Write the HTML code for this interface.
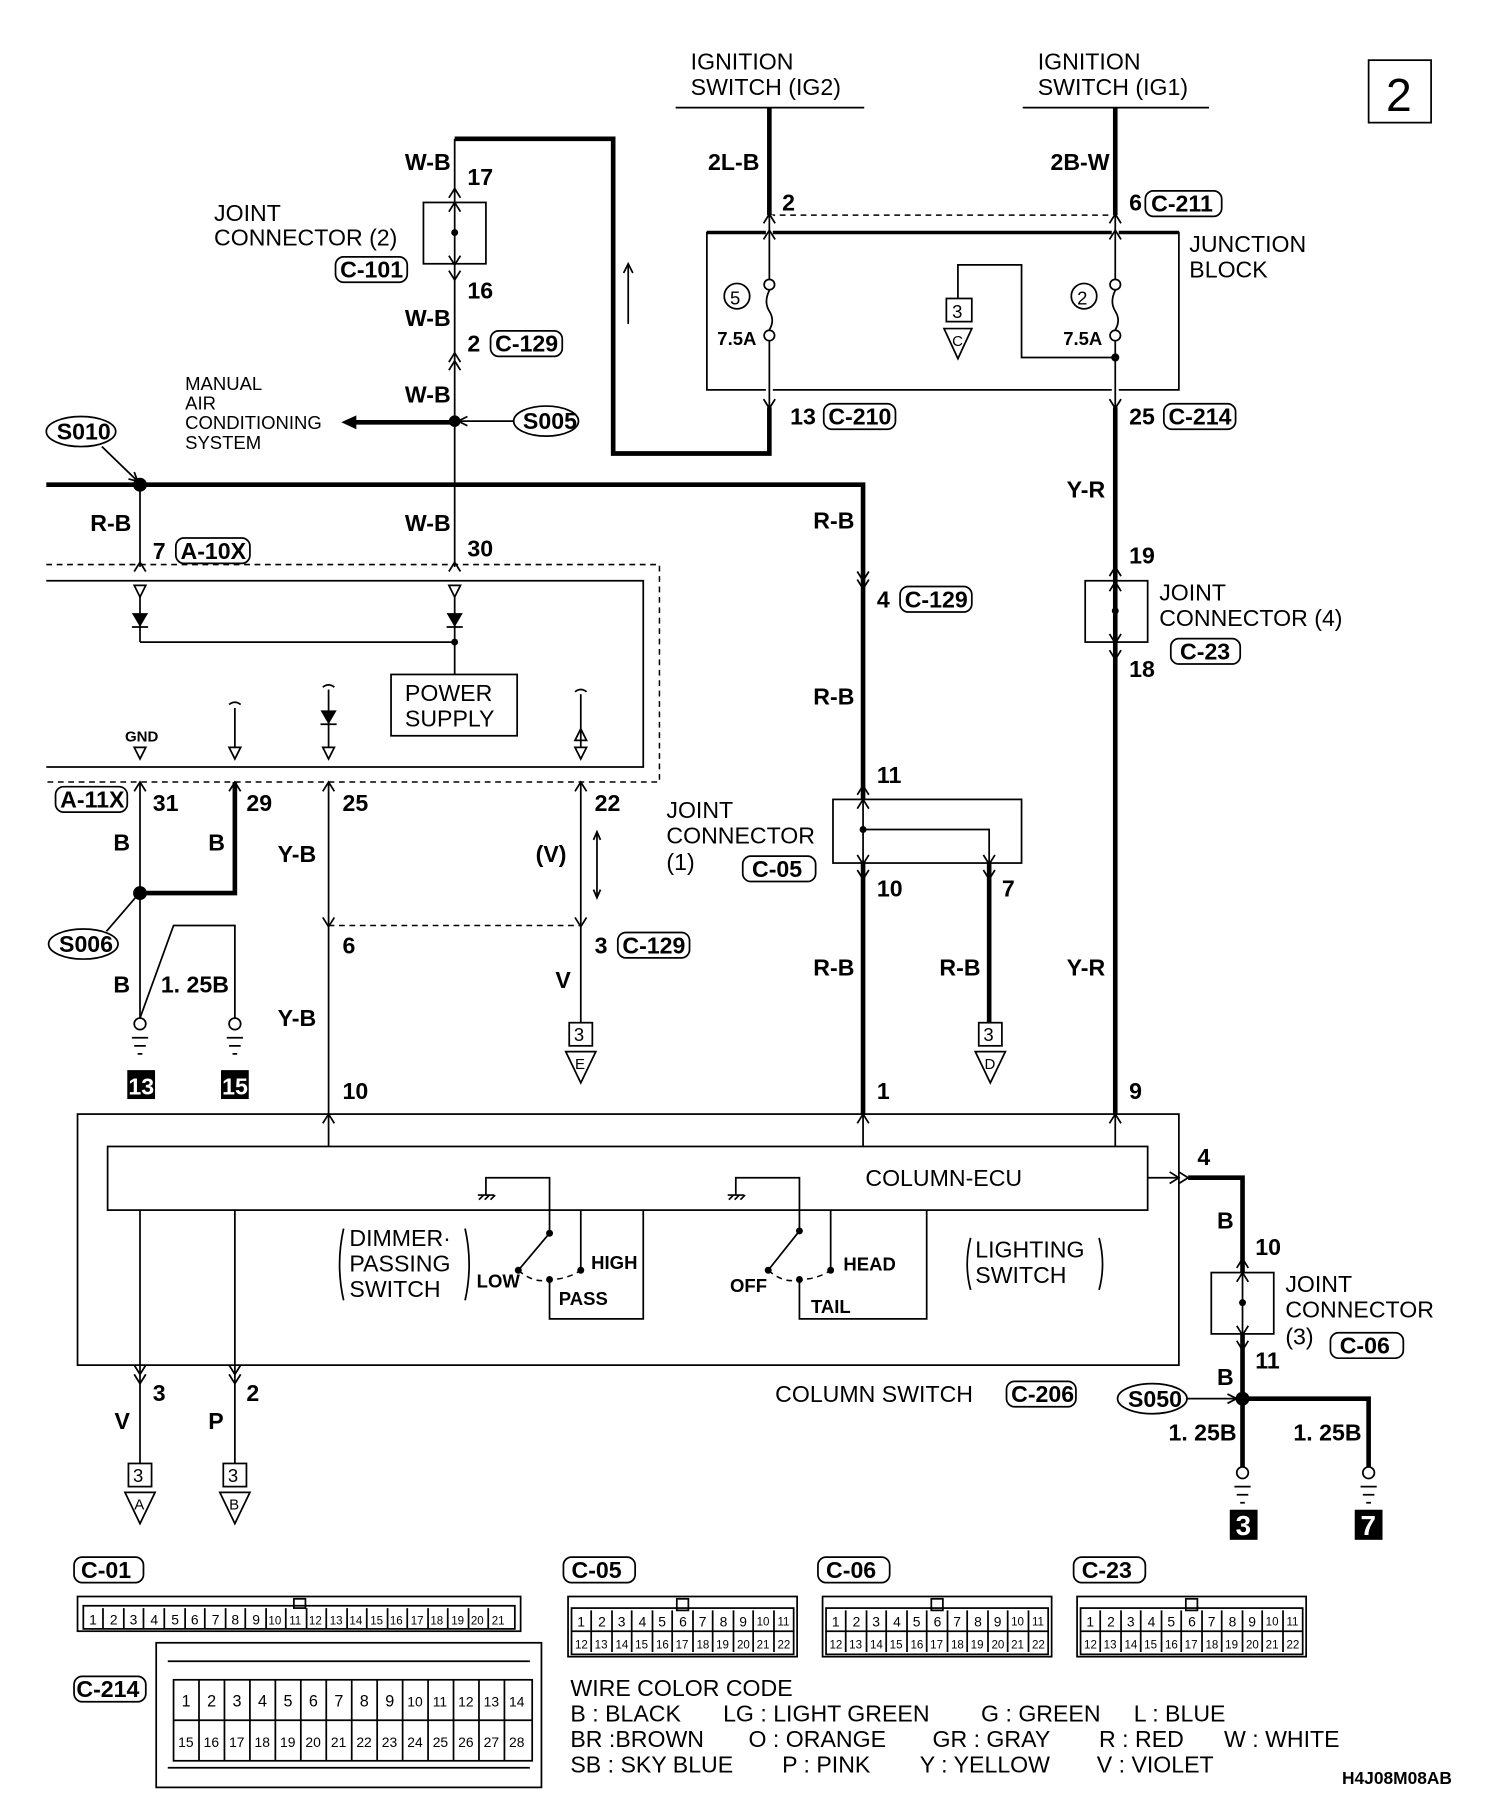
<!DOCTYPE html>
<html><head><meta charset="utf-8"><style>
html,body{margin:0;padding:0;background:#fff}
svg{display:block}
text{font-family:"Liberation Sans",sans-serif;font-size:20px;fill:#000}
.b{font-weight:bold}
.s{font-size:16px}
.n{font-size:13px}
.p14 text{font-size:14px}
.p12 text{font-size:12px}
.p10 text{font-size:10px}
.t{fill:none;stroke:#000;stroke-width:1.5}
.k{fill:none;stroke:#000;stroke-width:4}
.d{fill:none;stroke:#000;stroke-width:1.3;stroke-dasharray:5 4}
.tg{fill:none;stroke:#000;stroke-width:1.5}
</style></head><body>
<svg width="1504" height="1814" viewBox="0 0 1300 1568" xmlns="http://www.w3.org/2000/svg">
<rect x="1183" y="52" width="54" height="54" class="t" stroke-width="2"/>
<text x="1198" y="96" style="font-size:40px">2</text>

<text x="597" y="60">IGNITION</text><text x="597" y="82">SWITCH (IG2)</text>
<line x1="584" y1="93" x2="747" y2="93" class="t" stroke-width="2.5"/>
<path d="M665 93 V392 H530 V120 H393" class="k"/>
<text x="612" y="147" class="b">2L-B</text>
<text x="676" y="182" class="b">2</text>
<line x1="543" y1="280" x2="543" y2="228" class="t" stroke-width="1"/><path d="M539 236 L543 228 L547 236" class="t" stroke-width="1"/>
<text x="897" y="60">IGNITION</text><text x="897" y="82">SWITCH (IG1)</text>
<line x1="884" y1="93" x2="1045" y2="93" class="t" stroke-width="2.5"/>
<line x1="964" y1="93" x2="964" y2="963" class="k"/>
<text x="908" y="147" class="b">2B-W</text>
<text x="976" y="182" class="b">6</text>
<rect x="990" y="165" width="66" height="22" rx="7" class="tg"/><text x="995" y="183" class="b">C-211</text>
<line x1="665" y1="186" x2="964" y2="186" class="d"/>
<rect x="611" y="201" width="408" height="136" fill="#fff" stroke="#000" stroke-width="1.5"/>
<line x1="611" y1="201" x2="1019" y2="201" stroke="#000" stroke-width="3"/>
<line x1="665" y1="186" x2="665" y2="352" stroke="#fff" stroke-width="6"/>
<line x1="964" y1="186" x2="964" y2="352" stroke="#fff" stroke-width="6"/>
<path d="M665 186 V241 M665 295 V352" class="t"/>
<path d="M964 186 V241 M964 295 V352" class="t" stroke-width="2"/>
<circle cx="665" cy="246" r="4.5" class="t"/><circle cx="665" cy="290" r="4.5" class="t"/>
<path d="M665 251 q-5 10 0 18 q5 8 0 16" class="t"/>
<circle cx="964" cy="246" r="4.5" class="t"/><circle cx="964" cy="290" r="4.5" class="t"/>
<path d="M964 251 q-5 10 0 18 q5 8 0 16" class="t"/>
<circle cx="637" cy="256" r="11" class="t"/><text x="631" y="263" class="s">5</text>
<text x="620" y="298" class="b s">7.5A</text>
<circle cx="937" cy="256" r="11" class="t"/><text x="931" y="263" class="s">2</text>
<text x="919" y="298" class="b s">7.5A</text>
<path d="M964 309 H883 V229 H828 V258" class="t"/><circle cx="964" cy="309" r="3.5"/>
<rect x="818" y="258" width="22" height="20" class="t"/><text x="823" y="275" class="s">3</text>
<path d="M816 284 L840 284 L828 310 Z" class="t"/><text x="823" y="299" class="n">C</text>
<text x="1028" y="218">JUNCTION</text><text x="1028" y="240">BLOCK</text>
<path d="M660 193 L665 185 L670 193 M660 207 L665 199 L670 207 M660 345 L665 353 L670 345" class="t"/>
<path d="M959 193 L964 185 L969 193 M959 207 L964 199 L969 207 M959 345 L964 353 L969 345" class="t"/>
<text x="683" y="367" class="b">13</text><rect x="712" y="349" width="62" height="22" rx="7" class="tg"/><text x="716" y="367" class="b">C-210</text>
<text x="976" y="367" class="b">25</text><rect x="1006" y="349" width="62" height="22" rx="7" class="tg"/><text x="1010" y="367" class="b">C-214</text>
<text x="922" y="430" class="b">Y-R</text>
<text x="976" y="487" class="b">19</text>
<rect x="938" y="502" width="54" height="53" fill="none" stroke="#000" stroke-width="1.5"/><circle cx="964" cy="528" r="3"/>
<path d="M959 498 L964 490 L969 498 M959 511 L964 503 L969 511 M959 548 L964 556 L969 548 M959 562 L964 570 L969 562" class="t"/>
<text x="1002" y="519">JOINT</text><text x="1002" y="541">CONNECTOR (4)</text>
<rect x="1012" y="552" width="60" height="22" rx="7" class="tg"/><text x="1020" y="570" class="b">C-23</text>
<text x="976" y="585" class="b">18</text>
<text x="922" y="843" class="b">Y-R</text>
<text x="976" y="950" class="b">9</text>

<line x1="393" y1="120" x2="393" y2="490" class="t" stroke-width="2.5"/>
<text x="350" y="147" class="b">W-B</text><text x="404" y="160" class="b">17</text>
<rect x="366" y="175" width="54" height="53" fill="#fff" stroke="#000" stroke-width="1.5"/><line x1="393" y1="175" x2="393" y2="228" class="t"/><circle cx="393" cy="201" r="3"/>
<path d="M388 171 L393 163 L398 171 M388 183 L393 175 L398 183 M388 221 L393 229 L398 221 M388 234 L393 242 L398 234" class="t"/>
<text x="185" y="191">JOINT</text><text x="185" y="212">CONNECTOR (2)</text>
<rect x="290" y="222" width="62" height="22" rx="7" class="tg"/><text x="294" y="240" class="b">C-101</text>
<text x="404" y="258" class="b">16</text>
<text x="350" y="282" class="b">W-B</text>
<text x="404" y="304" class="b">2</text><rect x="424" y="286" width="62" height="22" rx="7" class="tg"/><text x="428" y="304" class="b">C-129</text>
<path d="M388 313 L393 305 L398 313 M388 320 L393 312 L398 320" class="t"/>
<text x="350" y="348" class="b">W-B</text>
<ellipse cx="472" cy="364" rx="28" ry="13" class="t"/><text x="452" y="371" class="b">S005</text>
<line x1="444" y1="364" x2="397" y2="364" class="t" stroke-width="1"/><path d="M404 360 L396 364 L404 368" class="t" stroke-width="1"/>
<circle cx="393" cy="364" r="5"/>
<line x1="393" y1="365" x2="305" y2="365" class="k"/><path d="M308 359 L295 365 L308 371 Z"/>
<text x="160" y="337" class="s">MANUAL</text><text x="160" y="354" class="s">AIR</text><text x="160" y="371" class="s">CONDITIONING</text><text x="160" y="388" class="s">SYSTEM</text>
<path d="M40 419 H746 V963" class="k"/>
<ellipse cx="70" cy="373" rx="30" ry="13" class="t"/><text x="49" y="380" class="b">S010</text>
<line x1="88" y1="386" x2="118" y2="415" class="t" stroke-width="1"/><path d="M111 414 L119 416 L116 408" class="t" stroke-width="1"/>
<circle cx="121" cy="419" r="6"/>
<line x1="121" y1="419" x2="121" y2="490" class="t" stroke-width="2.5"/>
<text x="78" y="459" class="b">R-B</text>
<text x="132" y="483" class="b">7</text><rect x="152" y="465" width="64" height="22" rx="7" class="tg"/><text x="156" y="483" class="b">A-10X</text>
<text x="350" y="459" class="b">W-B</text><text x="404" y="481" class="b">30</text>
<path d="M116 494 L121 486 L126 494 M388 494 L393 486 L398 494" class="t"/>
<path d="M40 488 H570 V676 H40" class="d"/>
<path d="M40 502 H556 V663 H40" class="t"/>
<path d="M116 506 L126 506 L121 516 Z M388 506 L398 506 L393 516 Z" class="t"/>
<line x1="121" y1="516" x2="121" y2="555" class="t"/><path d="M114 530 L128 530 L121 542 Z"/><line x1="114" y1="542" x2="128" y2="542" class="t"/>
<line x1="393" y1="516" x2="393" y2="583" class="t"/><path d="M386 530 L400 530 L393 542 Z"/><line x1="386" y1="542" x2="400" y2="542" class="t"/>
<line x1="121" y1="555" x2="393" y2="555" class="t"/><circle cx="393" cy="555" r="3"/>
<rect x="338" y="583" width="109" height="53" class="t"/><text x="350" y="606">POWER</text><text x="350" y="628">SUPPLY</text>
<text x="108" y="641" class="b n">GND</text>
<path d="M116 646 L126 646 L121 656 Z" class="t"/>
<path d="M198 609 q5 -4 10 0" class="t"/><line x1="203" y1="612" x2="203" y2="646" class="t" stroke-width="1"/><path d="M198 646 L208 646 L203 656 Z" class="t"/>
<path d="M279 594 q5 -4 10 0" class="t"/><line x1="284" y1="596" x2="284" y2="646" class="t" stroke-width="1"/><path d="M277 614 L291 614 L284 626 Z"/><line x1="277" y1="626" x2="291" y2="626" class="t"/><path d="M279 646 L289 646 L284 656 Z" class="t"/>
<path d="M497 598 q5 -4 10 0" class="t"/><line x1="502" y1="600" x2="502" y2="646" class="t" stroke-width="1"/><path d="M497 640 L507 640 L502 630 Z M497 646 L507 646 L502 656 Z" class="t"/>
<path d="M116 684 L121 676 L126 684 M198 684 L203 676 L208 684 M279 684 L284 676 L289 684 M497 684 L502 676 L507 684" class="t"/>
<rect x="48" y="680" width="62" height="22" rx="7" class="tg"/><text x="52" y="698" class="b">A-11X</text>
<text x="132" y="701" class="b">31</text><text x="213" y="701" class="b">29</text><text x="296" y="701" class="b">25</text><text x="514" y="701" class="b">22</text>
<path d="M121 676 V880" class="t" stroke-width="2.5"/>
<path d="M203 676 V772 H121" class="k"/>
<circle cx="121" cy="772" r="6"/>
<path d="M121 880 L150 800 H203 V880" class="t" stroke-width="3"/>
<text x="98" y="735" class="b">B</text><text x="180" y="735" class="b">B</text>
<ellipse cx="72" cy="816" rx="30" ry="13" class="t"/><text x="51" y="823" class="b">S006</text>
<line x1="92" y1="805" x2="117" y2="776" class="t" stroke-width="1"/>
<text x="98" y="858" class="b">B</text><text x="139" y="858" class="b">1. 25B</text>
<circle cx="121" cy="885" r="5" fill="#fff" stroke="#000" stroke-width="1.5"/><path d="M114 897 H128 M116 904 H126 M119 911 H123" class="t"/>
<circle cx="203" cy="885" r="5" fill="#fff" stroke="#000" stroke-width="1.5"/><path d="M196 897 H210 M198 904 H208 M201 911 H205" class="t"/>
<rect x="110" y="925" width="24" height="25"/><text x="111" y="946" class="b" style="fill:#fff">13</text>
<rect x="191" y="925" width="24" height="25"/><text x="192" y="946" class="b" style="fill:#fff">15</text>
<line x1="284" y1="676" x2="284" y2="963" class="t" stroke-width="2.5"/>
<text x="240" y="745" class="b">Y-B</text><text x="296" y="824" class="b">6</text><text x="240" y="887" class="b">Y-B</text><text x="296" y="950" class="b">10</text>
<line x1="284" y1="800" x2="502" y2="800" class="d" stroke-width="1"/>
<path d="M279 793 L284 801 L289 793 M497 793 L502 801 L507 793" class="t"/>
<line x1="502" y1="676" x2="502" y2="884" class="t" stroke-width="3"/>
<text x="463" y="745" class="b">(V)</text>
<path d="M516 720 V775 M513 726 L516 719 L519 726 M513 769 L516 776 L519 769" class="t" stroke-width="1"/>
<text x="514" y="824" class="b">3</text><rect x="534" y="806" width="62" height="22" rx="7" class="tg"/><text x="538" y="824" class="b">C-129</text>
<text x="480" y="854" class="b">V</text>
<rect x="492" y="884" width="20" height="20" class="t"/><text x="496" y="900" class="s">3</text>
<path d="M489 909 L515 909 L502 936 Z" class="t"/><text x="497" y="924" class="n">E</text>
<text x="703" y="457" class="b">R-B</text>
<path d="M741 494 L746 502 L751 494 M741 501 L746 509 L751 501" class="t"/>
<text x="758" y="525" class="b">4</text><rect x="778" y="507" width="62" height="22" rx="7" class="tg"/><text x="782" y="525" class="b">C-129</text>
<text x="703" y="609" class="b">R-B</text>
<text x="758" y="677" class="b">11</text>
<rect x="720" y="691" width="163" height="55" fill="#fff" stroke="#000" stroke-width="1.5"/>
<line x1="746" y1="691" x2="746" y2="746" class="t"/>
<path d="M746 717 H855 V746" class="t"/><circle cx="746" cy="717" r="3"/>
<path d="M741 687 L746 679 L751 687 M741 699 L746 691 L751 699 M741 739 L746 747 L751 739 M741 752 L746 760 L751 752 M850 739 L855 747 L860 739 M850 752 L855 760 L860 752" class="t"/>
<line x1="855" y1="746" x2="855" y2="884" class="k"/>
<text x="576" y="707">JOINT</text><text x="576" y="729">CONNECTOR</text><text x="576" y="752">(1)</text>
<rect x="642" y="740" width="63" height="22" rx="7" class="tg"/><text x="650" y="758" class="b">C-05</text>
<text x="758" y="775" class="b">10</text><text x="866" y="775" class="b">7</text>
<text x="703" y="843" class="b">R-B</text><text x="812" y="843" class="b">R-B</text>
<rect x="846" y="884" width="20" height="20" class="t"/><text x="850" y="900" class="s">3</text>
<path d="M843 909 L869 909 L856 936 Z" class="t"/><text x="851" y="924" class="n">D</text>
<text x="758" y="950" class="b">1</text>
<rect x="67" y="963" width="952" height="217" class="t" stroke-width="2"/>
<path d="M279 971 L284 963 L289 971 M741 971 L746 963 L751 971 M959 971 L964 963 L969 971" class="t"/>
<rect x="93" y="991" width="899" height="55" class="t"/>
<path d="M284 963 V991 M746 963 V991 M964 963 V991" class="t" stroke-width="1"/>
<text x="748" y="1025">COLUMN-ECU</text>
<line x1="992" y1="1018" x2="1019" y2="1018" class="t" stroke-width="1"/><path d="M1011 1013 L1019 1018 L1011 1023 M1019 1013 L1027 1018 L1019 1023" class="t"/>
<path d="M1027 1018 H1074 V1270 M1074 1209 H1183 V1270" class="k"/>
<text x="1035" y="1007" class="b">4</text><text x="1052" y="1062" class="b">B</text><text x="1085" y="1085" class="b">10</text>
<rect x="1047" y="1100" width="54" height="53" fill="#fff" stroke="#000" stroke-width="1.5"/><line x1="1074" y1="1100" x2="1074" y2="1153" class="t"/><circle cx="1074" cy="1126" r="3"/>
<path d="M1069 1096 L1074 1088 L1079 1096 M1069 1108 L1074 1100 L1079 1108 M1069 1146 L1074 1154 L1079 1146 M1069 1159 L1074 1167 L1079 1159" class="t"/>
<text x="1111" y="1117">JOINT</text><text x="1111" y="1139">CONNECTOR</text><text x="1111" y="1162">(3)</text>
<rect x="1150" y="1152" width="63" height="22" rx="7" class="tg"/><text x="1158" y="1170" class="b">C-06</text>
<text x="1085" y="1183" class="b">11</text><text x="1052" y="1197" class="b">B</text>
<ellipse cx="996" cy="1209" rx="30" ry="13" class="t"/><text x="975" y="1216" class="b">S050</text>
<line x1="1026" y1="1209" x2="1068" y2="1209" class="t" stroke-width="1"/><path d="M1061 1205 L1069 1209 L1061 1213" class="t" stroke-width="1"/>
<circle cx="1074" cy="1209" r="6"/>
<text x="1010" y="1245" class="b">1. 25B</text><text x="1118" y="1245" class="b">1. 25B</text>
<circle cx="1074" cy="1273" r="5" fill="#fff" stroke="#000" stroke-width="1.5"/><path d="M1067 1285 H1081 M1069 1292 H1079 M1072 1299 H1076" class="t"/>
<circle cx="1183" cy="1273" r="5" fill="#fff" stroke="#000" stroke-width="1.5"/><path d="M1176 1285 H1190 M1178 1292 H1188 M1181 1299 H1185" class="t"/>
<rect x="1063" y="1305" width="24" height="26"/><text x="1068" y="1327" class="b" style="fill:#fff;font-size:24px">3</text>
<rect x="1171" y="1305" width="24" height="26"/><text x="1176" y="1327" class="b" style="fill:#fff;font-size:24px">7</text>
<path d="M121 1046 V1180 M203 1046 V1180" class="t" stroke-width="1"/>
<path d="M121 1180 V1265 M203 1180 V1265" class="t" stroke-width="3"/>
<path d="M116 1180 L121 1188 L126 1180 M116 1188 L121 1196 L126 1188 M198 1180 L203 1188 L208 1180 M198 1188 L203 1196 L208 1188" class="t"/>
<text x="132" y="1211" class="b">3</text><text x="213" y="1211" class="b">2</text>
<text x="99" y="1235" class="b">V</text><text x="180" y="1235" class="b">P</text>
<rect x="111" y="1265" width="20" height="20" class="t"/><text x="115" y="1281" class="s">3</text>
<path d="M108 1290 L134 1290 L121 1317 Z" class="t"/><text x="116" y="1305" class="n">A</text>
<rect x="193" y="1265" width="20" height="20" class="t"/><text x="197" y="1281" class="s">3</text>
<path d="M190 1290 L216 1290 L203 1317 Z" class="t"/><text x="198" y="1305" class="n">B</text>
<path d="M413 1033 H427 M414 1037 L418 1033 M419 1037 L423 1033 M424 1037 L428 1033" class="t" stroke-width="1"/>
<path d="M420 1033 V1018 H475 V1066 L448 1098" class="t"/><circle cx="475" cy="1066" r="3"/><circle cx="448" cy="1098" r="3"/>
<path d="M448 1098 Q462 1110 475 1106 Q490 1106 502 1098" class="d" stroke-width="1"/>
<circle cx="475" cy="1106" r="3"/><circle cx="502" cy="1098" r="3"/>
<path d="M502 1098 V1046 M556 1046 V1140 H475 V1106" class="t"/>
<text x="302" y="1077">DIMMER·</text><text x="302" y="1099">PASSING</text><text x="302" y="1121">SWITCH</text>
<path d="M297 1062 Q290 1093 297 1124 M402 1062 Q409 1093 402 1124" class="t" stroke-width="1"/>
<text x="412" y="1113" class="b s">LOW</text><text x="511" y="1097" class="b s">HIGH</text><text x="483" y="1128" class="b s">PASS</text>
<path d="M629 1033 H643 M630 1037 L634 1033 M635 1037 L639 1033 M640 1037 L644 1033" class="t" stroke-width="1"/>
<path d="M636 1033 V1018 H691 V1064 L664 1098" class="t"/><circle cx="691" cy="1064" r="3"/><circle cx="664" cy="1098" r="3"/>
<path d="M664 1098 Q678 1110 691 1106 Q706 1106 718 1098" class="d" stroke-width="1"/>
<circle cx="691" cy="1106" r="3"/><circle cx="718" cy="1098" r="3"/>
<path d="M718 1098 V1046 M801 1046 V1140 H691 V1106" class="t"/>
<text x="631" y="1117" class="b s">OFF</text><text x="729" y="1098" class="b s">HEAD</text><text x="701" y="1135" class="b s">TAIL</text>
<text x="843" y="1087">LIGHTING</text><text x="843" y="1109">SWITCH</text>
<path d="M839 1070 Q833 1093 839 1115 M950 1070 Q956 1093 950 1115" class="t" stroke-width="1"/>
<text x="670" y="1212">COLUMN SWITCH</text>
<rect x="870" y="1194" width="60" height="22" rx="7" class="tg"/><text x="874" y="1212" class="b">C-206</text>
<rect x="64" y="1346" width="60" height="22" rx="7" class="tg"/><text x="70" y="1364" class="b">C-01</text>
<rect x="487" y="1346" width="62" height="22" rx="7" class="tg"/><text x="494" y="1364" class="b">C-05</text>
<rect x="707" y="1346" width="62" height="22" rx="7" class="tg"/><text x="714" y="1364" class="b">C-06</text>
<rect x="928" y="1346" width="62" height="22" rx="7" class="tg"/><text x="935" y="1364" class="b">C-23</text>
<rect x="64" y="1449" width="62" height="22" rx="7" class="tg"/><text x="66" y="1467" class="b">C-214</text>
<g>
<rect x="67" y="1380" width="383" height="30" class="t"/><rect x="72" y="1388" width="373" height="20" class="t"/>
<rect x="254" y="1382" width="10" height="8" class="t"/>
<g class="p12">
<text x="77" y="1404">1</text><text x="95" y="1404">2</text><text x="112" y="1404">3</text><text x="130" y="1404">4</text><text x="148" y="1404">5</text><text x="165" y="1404">6</text><text x="183" y="1404">7</text><text x="200" y="1404">8</text><text x="218" y="1404">9</text>
</g>
<g class="p10">
<text x="232" y="1404">10</text><text x="250" y="1404">11</text><text x="267" y="1404">12</text><text x="285" y="1404">13</text><text x="302" y="1404">14</text><text x="320" y="1404">15</text><text x="337" y="1404">16</text><text x="355" y="1404">17</text><text x="372" y="1404">18</text><text x="390" y="1404">19</text><text x="407" y="1404">20</text><text x="425" y="1404">21</text>
</g>
<path d="M89 1390 V1408 M107 1390 V1408 M124 1390 V1408 M142 1390 V1408 M160 1390 V1408 M177 1390 V1408 M195 1390 V1408 M212 1390 V1408 M230 1390 V1408 M247 1390 V1408 M265 1390 V1408 M282 1390 V1408 M300 1390 V1408 M317 1390 V1408 M335 1390 V1408 M352 1390 V1408 M370 1390 V1408 M387 1390 V1408 M405 1390 V1408 M422 1390 V1408" class="t" stroke-width="1"/>
</g>
<rect x="135" y="1420" width="333" height="125" class="t"/>
<path d="M145 1436 H458 M145 1528 H458" class="t"/>
<rect x="150" y="1452" width="310" height="70" class="t"/>
<line x1="150" y1="1487" x2="460" y2="1487" class="t"/>
<path d="M172 1452 V1522 M194 1452 V1522 M216 1452 V1522 M238 1452 V1522 M260 1452 V1522 M282 1452 V1522 M304 1452 V1522 M326 1452 V1522 M348 1452 V1522 M370 1452 V1522 M392 1452 V1522 M414 1452 V1522 M436 1452 V1522" class="t" stroke-width="1"/>
<g class="p14">
<text x="157" y="1475">1</text><text x="179" y="1475">2</text><text x="201" y="1475">3</text><text x="223" y="1475">4</text><text x="245" y="1475">5</text><text x="267" y="1475">6</text><text x="289" y="1475">7</text><text x="311" y="1475">8</text><text x="333" y="1475">9</text>
</g>
<g class="p12">
<text x="352" y="1475">10</text><text x="374" y="1475">11</text><text x="396" y="1475">12</text><text x="418" y="1475">13</text><text x="440" y="1475">14</text>
<text x="154" y="1510">15</text><text x="176" y="1510">16</text><text x="198" y="1510">17</text><text x="220" y="1510">18</text><text x="242" y="1510">19</text><text x="264" y="1510">20</text><text x="286" y="1510">21</text><text x="308" y="1510">22</text><text x="330" y="1510">23</text><text x="352" y="1510">24</text><text x="374" y="1510">25</text><text x="396" y="1510">26</text><text x="418" y="1510">27</text><text x="440" y="1510">28</text>
</g>
<g id="c05">
<rect x="491" y="1380" width="198" height="52" class="t"/><rect x="494" y="1390" width="192" height="40" class="t"/><line x1="494" y1="1410" x2="686" y2="1410" class="t"/>
<rect x="585" y="1382" width="10" height="10" class="t"/>
<path d="M511 1392 V1428 M529 1392 V1428 M546 1392 V1428 M564 1392 V1428 M581 1392 V1428 M599 1392 V1428 M616 1392 V1428 M634 1392 V1428 M651 1392 V1428 M669 1392 V1428" class="t" stroke-width="1"/>
<g class="p12"><text x="499" y="1406">1</text><text x="517" y="1406">2</text><text x="534" y="1406">3</text><text x="552" y="1406">4</text><text x="569" y="1406">5</text><text x="587" y="1406">6</text><text x="604" y="1406">7</text><text x="622" y="1406">8</text><text x="639" y="1406">9</text></g>
<g class="p10"><text x="654" y="1405">10</text><text x="672" y="1405">11</text>
<text x="497" y="1425">12</text><text x="514" y="1425">13</text><text x="532" y="1425">14</text><text x="549" y="1425">15</text><text x="567" y="1425">16</text><text x="584" y="1425">17</text><text x="602" y="1425">18</text><text x="619" y="1425">19</text><text x="637" y="1425">20</text><text x="654" y="1425">21</text><text x="672" y="1425">22</text></g>
</g>
<use href="#c05" x="220"/>
<use href="#c05" x="440"/>
<text x="493" y="1466">WIRE COLOR CODE</text>
<text x="493" y="1488">B : BLACK</text><text x="625" y="1488">LG : LIGHT GREEN</text><text x="848" y="1488">G : GREEN</text><text x="980" y="1488">L : BLUE</text>
<text x="493" y="1510">BR :BROWN</text><text x="647" y="1510">O : ORANGE</text><text x="806" y="1510">GR : GRAY</text><text x="950" y="1510">R : RED</text><text x="1058" y="1510">W : WHITE</text>
<text x="493" y="1532">SB : SKY BLUE</text><text x="676" y="1532">P : PINK</text><text x="795" y="1532">Y : YELLOW</text><text x="948" y="1532">V : VIOLET</text>
<text x="1160" y="1542" class="b" style="font-size:15px">H4J08M08AB</text>
</svg>
</body></html>
